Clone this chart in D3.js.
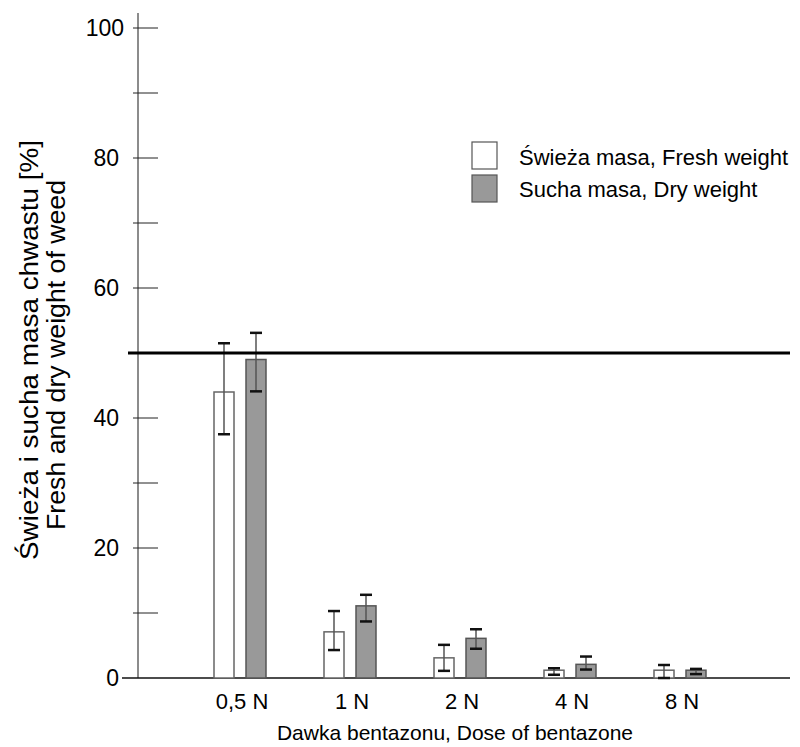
<!DOCTYPE html>
<html>
<head>
<meta charset="utf-8">
<script src="https://cdn.jsdelivr.net/npm/d3@7"></script>
<style>
  body { margin: 0; background: #fff; }
  svg { font-family: "Liberation Sans", Arial, sans-serif; }
</style>
</head>
<body>
<div id="chart"></div>
<script>
// data
const doses = ["0,5 N", "1 N", "2 N", "4 N", "8 N"];
const seriesNames = ["Świeża masa, Fresh weight", "Sucha masa, Dry weight"];
const freshMean = [44.0, 7.1, 3.1, 1.2, 1.2];
const freshLow = [37.5, 4.3, 1.1, 0.5, 0.0];
const freshHigh = [51.5, 10.3, 5.1, 1.5, 2.0];
const dryMean = [49.0, 11.1, 6.1, 2.1, 1.2];
const dryLow = [44.1, 8.7, 4.5, 1.3, 0.6];
const dryHigh = [53.1, 12.8, 7.5, 3.3, 1.4];
const yTicks = [0, 20, 40, 60, 80, 100];
const refValue = 50;

const width = 800, height = 747;
const svg = d3.select("#chart").append("svg")
    .attr("width", width)
    .attr("height", height);

const y = d3.scaleLinear().domain([0, 100]).range([678, 28]);
const x0 = d3.scaleBand().domain(doses).range([185, 735]);
const x1 = d3.scaleBand().domain(["fresh", "dry"]).range([29, 81]).paddingInner(0.375);

const axisX = 138;

// y axis line
svg.append("line")
    .attr("x1", axisX).attr("x2", axisX)
    .attr("y1", 13).attr("y2", y(0))
    .attr("stroke", "#666").attr("stroke-width", 1.5);

// ticks every 10, labels every 20
const tickVals = d3.range(10, 101, 10);
svg.selectAll(".tk").data(tickVals).enter().append("line")
    .attr("x1", axisX - 5).attr("x2", axisX + 20)
    .attr("y1", d => y(d)).attr("y2", d => y(d))
    .attr("stroke", "#222").attr("stroke-width", 1);

svg.selectAll(".tl").data(yTicks).enter().append("text")
    .attr("x", d => d === 100 ? 124 : 119)
    .attr("y", d => y(d))
    .attr("dy", "0.36em")
    .attr("text-anchor", "end")
    .style("font-size", "23px")
    .text(d => d);

// baseline
svg.append("line")
    .attr("x1", 122).attr("x2", 790)
    .attr("y1", y(0)).attr("y2", y(0))
    .attr("stroke", "#111").attr("stroke-width", 1.5);

const rows = doses.map((d, i) => ({
    dose: d,
    bars: [
        { key: "fresh", mean: freshMean[i], lo: freshLow[i], hi: freshHigh[i] },
        { key: "dry", mean: dryMean[i], lo: dryLow[i], hi: dryHigh[i] }
    ]
}));

const groups = svg.selectAll(".grp").data(rows).enter().append("g")
    .attr("transform", d => `translate(${x0(d.dose)},0)`);

groups.selectAll("rect").data(d => d.bars).enter().append("rect")
    .attr("x", d => x1(d.key))
    .attr("y", d => y(d.mean))
    .attr("width", x1.bandwidth())
    .attr("height", d => y(0) - y(d.mean))
    .attr("fill", d => d.key === "fresh" ? "#fff" : "#999")
    .attr("stroke", d => d.key === "fresh" ? "#666" : "#555")
    .attr("stroke-width", 1.5);

// error bars
const eb = groups.selectAll(".eb").data(d => d.bars).enter().append("g");
eb.append("line")
    .attr("x1", d => x1(d.key) + x1.bandwidth() / 2)
    .attr("x2", d => x1(d.key) + x1.bandwidth() / 2)
    .attr("y1", d => y(d.hi)).attr("y2", d => y(d.lo))
    .attr("stroke", "#555").attr("stroke-width", 1.5);
eb.selectAll(".cap").data(d => [d, d].map((b, j) => ({ b, v: j ? b.lo : b.hi }))).enter().append("line")
    .attr("x1", d => x1(d.b.key) + x1.bandwidth() / 2 - 6)
    .attr("x2", d => x1(d.b.key) + x1.bandwidth() / 2 + 6)
    .attr("y1", d => y(d.v)).attr("y2", d => y(d.v))
    .attr("stroke", "#111").attr("stroke-width", 2.5);

// reference line at 50%
svg.append("line")
    .attr("x1", 128).attr("x2", 790)
    .attr("y1", y(refValue)).attr("y2", y(refValue))
    .attr("stroke", "#000").attr("stroke-width", 3);

// x labels
svg.selectAll(".xl").data(doses).enter().append("text")
    .attr("x", d => x0(d) + x0.bandwidth() / 2 + 2)
    .attr("y", 709)
    .attr("text-anchor", "middle")
    .style("font-size", "22px")
    .text(d => d);

svg.append("text")
    .attr("x", 455).attr("y", 740)
    .attr("text-anchor", "middle")
    .style("font-size", "21px")
    .text("Dawka bentazonu, Dose of bentazone");

// y title, two lines
svg.append("text")
    .attr("transform", "translate(38,350) rotate(-90)")
    .attr("text-anchor", "middle")
    .attr("textLength", 420)
    .attr("lengthAdjust", "spacingAndGlyphs")
    .style("font-size", "25px")
    .text("Świeża i sucha masa chwastu [%]");
svg.append("text")
    .attr("transform", "translate(65,355) rotate(-90)")
    .attr("text-anchor", "middle")
    .attr("textLength", 350)
    .attr("lengthAdjust", "spacingAndGlyphs")
    .style("font-size", "25px")
    .text("Fresh and dry weight of weed");

// legend
const legend = svg.append("g").attr("transform", "translate(472,142)");
legend.selectAll("rect").data(seriesNames).enter().append("rect")
    .attr("x", 0).attr("y", (d, i) => i * 33)
    .attr("width", 25).attr("height", 27)
    .attr("fill", (d, i) => i === 0 ? "#fff" : "#999")
    .attr("stroke", "#555").attr("stroke-width", 1.2);
legend.selectAll("text").data(seriesNames).enter().append("text")
    .attr("x", 47).attr("y", (d, i) => 23 + i * 32)
    .style("font-size", "22px")
    .text(d => d);
</script>
</body>
</html>
